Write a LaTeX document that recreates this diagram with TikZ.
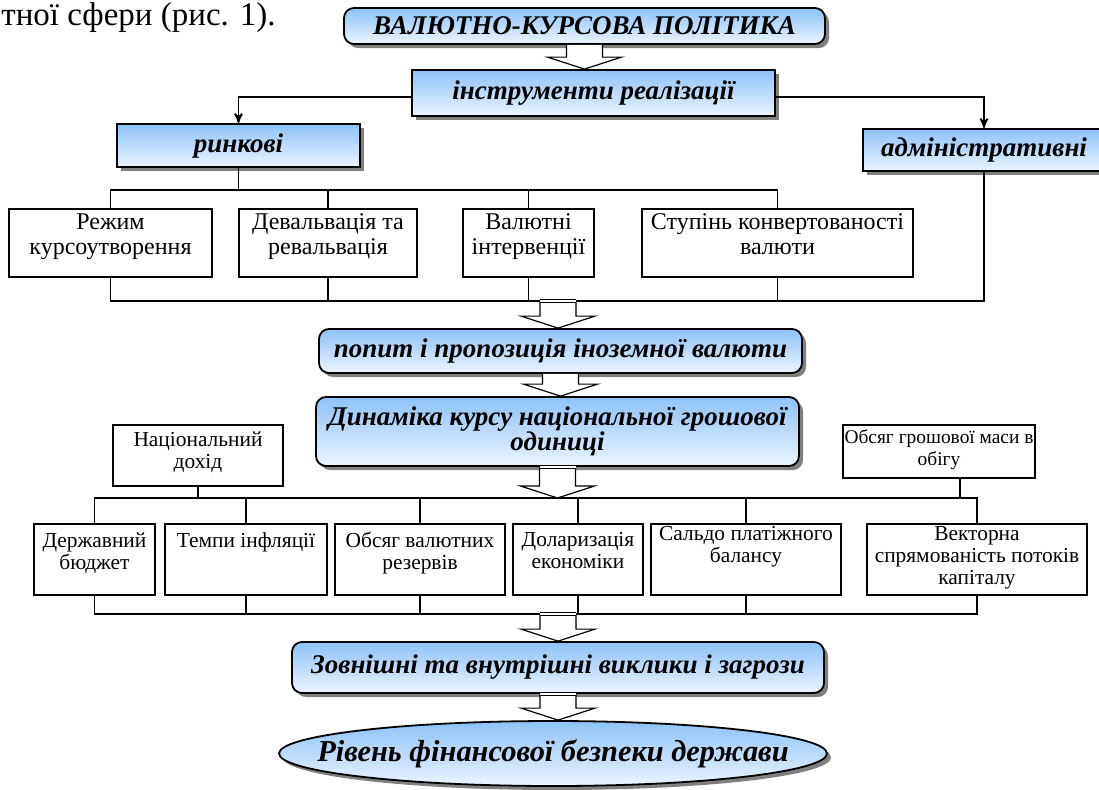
\documentclass[tikz,border=0pt]{standalone}
\usepackage{fontspec}
\setmainfont{Liberation Serif}
\usepackage{tikz}
\usetikzlibrary{arrows, calc, shadows, shapes.geometric}

\definecolor{skytop}{RGB}{140,195,250}
\definecolor{skybot}{RGB}{236,244,254}

\newcommand\bodyf{\fontsize{12}{12.5}\selectfont}
\newcommand\smallf{\fontsize{10.7}{11}\selectfont}
\newcommand\tinyf{\fontsize{9.7}{11}\selectfont}
\newcommand\headf{\fontsize{13.5}{15}\selectfont\bfseries\itshape}
\newcommand\ratef{\fontsize{13.5}{12.5}\selectfont\bfseries\itshape}
\newcommand\levelf{\fontsize{15.2}{16}\selectfont\bfseries\itshape}

% open hollow arrow from #1 down to #2
\newcommand\hollow[2]{%
  \draw[hollowarr] let \p1=(#1), \p2=(#2) in
    (\x1-9pt,\y1) -- (\x1-9pt,\y2+6pt) -- (\x1-18.5pt,\y2+6pt) -- (\x1,\y2)
    -- (\x1+18.5pt,\y2+6pt) -- (\x1+9pt,\y2+6pt) -- (\x1+9pt,\y1);}
\newcommand\hollowbar[2]{%
  \hollow{#1}{#2}
  \draw[double, double distance=1pt, line width=0.6pt] let \p1=(#1) in
    (\x1-9pt,\y1) -- (\x1+9pt,\y1);}

\tikzset{intext/.style args={#1/#2/#3}{label={[anchor=north, align=center, font=#3,
  inner sep=0pt, yshift=-#2]north:{#1}}}}

\begin{document}
\begin{tikzpicture}[>=stealth', x=0.5pt, y=-0.5pt]
    \tikzstyle{bluebox}=[draw, line width=0.9pt, top color=skytop, bottom color=skybot,
      drop shadow={shadow xshift=2pt, shadow yshift=-2pt, fill=black!50, opacity=1},
      font=\headf, inner sep=0pt]
    \tikzstyle{bluerounded}=[bluebox, rounded corners=5pt]
    \tikzstyle{plainbox}=[draw, line width=0.9pt, fill=white, inner sep=0pt]
    \tikzstyle{hollowarr}=[draw, fill=white, line width=0.6pt]
    \tikzstyle{link}=[line width=0.8pt]

    \useasboundingbox (0,0) rectangle (1099,789);

    \node[anchor=base west, inner sep=0pt, font=\fontsize{16.5}{16.5}\selectfont] (prev) at (1,25) {тної сфери (рис. 1).};

    % upper part
    \node[bluerounded, minimum width=240.5pt, minimum height=18pt] (policy) at (584.5,26) {ВАЛЮТНО-КУРСОВА ПОЛІТИКА};
    \node[bluebox, minimum width=181.5pt, minimum height=23pt] (tools) at (593.5,93) {інструменти реалізації};
    \node[bluebox, minimum width=121.5pt, minimum height=21.5pt] (market) at (238.5,145.5) {ринкові};
    \node[bluebox, minimum width=121pt, minimum height=21pt] (admin) at (984,150) {адміністративні};

    \node[plainbox, minimum width=101.5pt, minimum height=34pt, intext={Режим\\курсоутворення/2.5pt/\bodyf}] (regime) at (110.5,243) {};
    \node[plainbox, minimum width=89pt, minimum height=34pt, intext={Девальвація та\\ревальвація/2.5pt/\bodyf}] (deval) at (328,243) {};
    \node[plainbox, minimum width=65.5pt, minimum height=34pt, intext={Валютні\\інтервенції/2.5pt/\bodyf}] (interv) at (528.5,243) {};
    \node[plainbox, minimum width=135.5pt, minimum height=34pt, intext={Ступінь конвертованості\\валюти/2.5pt/\bodyf}] (convert) at (777.5,243) {};

    \coordinate (up1) at (0,190);
    \coordinate (lo1) at (0,301);
    \coordinate (j1) at (558,301);

    \draw[link, ->] ([yshift=-2pt]tools.west) -| (market.north);
    \draw[link, ->] ([yshift=-2pt]tools.east) -| (admin.north);
    \draw[link] (market.south) -- (market.south |- up1);
    \draw[link] (regime.north) |- (convert.north |- up1) -- (convert.north);
    \foreach \b in {deval, interv}
      \draw[link] (\b.north) -- (\b.north |- up1);
    \draw[link] (regime.south) |- (admin.south |- lo1) -- (admin.south);
    \foreach \b in {deval, interv, convert}
      \draw[link] (\b.south) -- (\b.south |- lo1);

    % middle part
    \node[bluerounded, minimum width=241.5pt, minimum height=22pt] (demand) at (560.5,351) {попит і пропозиція іноземної валюти};
    \node[bluerounded, font=\ratef, align=center, minimum width=241.5pt, minimum height=34.5pt] (rate) at (557.5,431.5) {Динаміка курсу національної грошової\\одиниці};
    \node[plainbox, minimum width=85pt, minimum height=30.5pt, intext={Національний\\дохід/3.5pt/\smallf}] (income) at (198,455.5) {};
    \node[plainbox, minimum width=96pt, minimum height=26.5pt, intext={Обсяг грошової маси в\\обігу/2.5pt/\tinyf}] (money) at (939,451.5) {};

    \node[plainbox, minimum width=60.5pt, minimum height=35.5pt, intext={Державний\\бюджет/4.5pt/\smallf}] (budget) at (94.5,559.5) {};
    \node[plainbox, minimum width=81pt, minimum height=35.5pt, intext={Темпи інфляції/4.5pt/\smallf}] (inflation) at (246,559.5) {};
    \node[plainbox, minimum width=85pt, minimum height=35.5pt, intext={Обсяг валютних\\резервів/4.5pt/\smallf}] (reserves) at (420,559.5) {};
    \node[plainbox, minimum width=65pt, minimum height=35.5pt, intext={Доларизація\\економіки/4.5pt/\smallf}] (dollar) at (578,559.5) {};
    \node[plainbox, minimum width=95pt, minimum height=35.5pt, intext={Сальдо платіжного\\балансу/1.5pt/\smallf}] (balance) at (746,559.5) {};
    \node[plainbox, minimum width=110pt, minimum height=35.5pt, intext={Векторна\\спрямованість потоків\\капіталу/1.5pt/\smallf}] (capital) at (977,559.5) {};

    \coordinate (up2) at (0,498);
    \coordinate (lo2) at (0,614);
    \coordinate (j2) at (558,614);

    \draw[link] (income.south) -- (income.south |- up2);
    \draw[link] ([xshift=10.5pt]money.south) -- ([xshift=10.5pt]money.south |- up2);
    \draw[link] (budget.north) |- (capital.north |- up2) -- (capital.north);
    \foreach \b in {inflation, reserves, dollar, balance}
      \draw[link] (\b.north) -- (\b.north |- up2);
    \draw[link] (budget.south) |- (capital.south |- lo2) -- (capital.south);
    \foreach \b in {inflation, reserves, dollar, balance}
      \draw[link] (\b.south) -- (\b.south |- lo2);

    % lower part
    \node[bluerounded, minimum width=266pt, minimum height=25.5pt] (threats) at (558,667.5) {Зовнішні та внутрішні виклики і загрози};
    \node[bluebox, ellipse, font=\levelf, inner xsep=-22pt, inner ysep=-8pt, minimum width=274pt, minimum height=32.5pt] (level) at (553,753.5) {Рівень фінансової безпеки держави};

    \hollow{policy.south}{tools.north}
    \hollowbar{j1}{demand.north}
    \hollow{demand.south}{rate.north}
    \hollowbar{rate.south}{rate.south |- up2}
    \hollowbar{j2}{threats.north}
    \hollowbar{threats.south}{level.north}
\end{tikzpicture}
\end{document}
